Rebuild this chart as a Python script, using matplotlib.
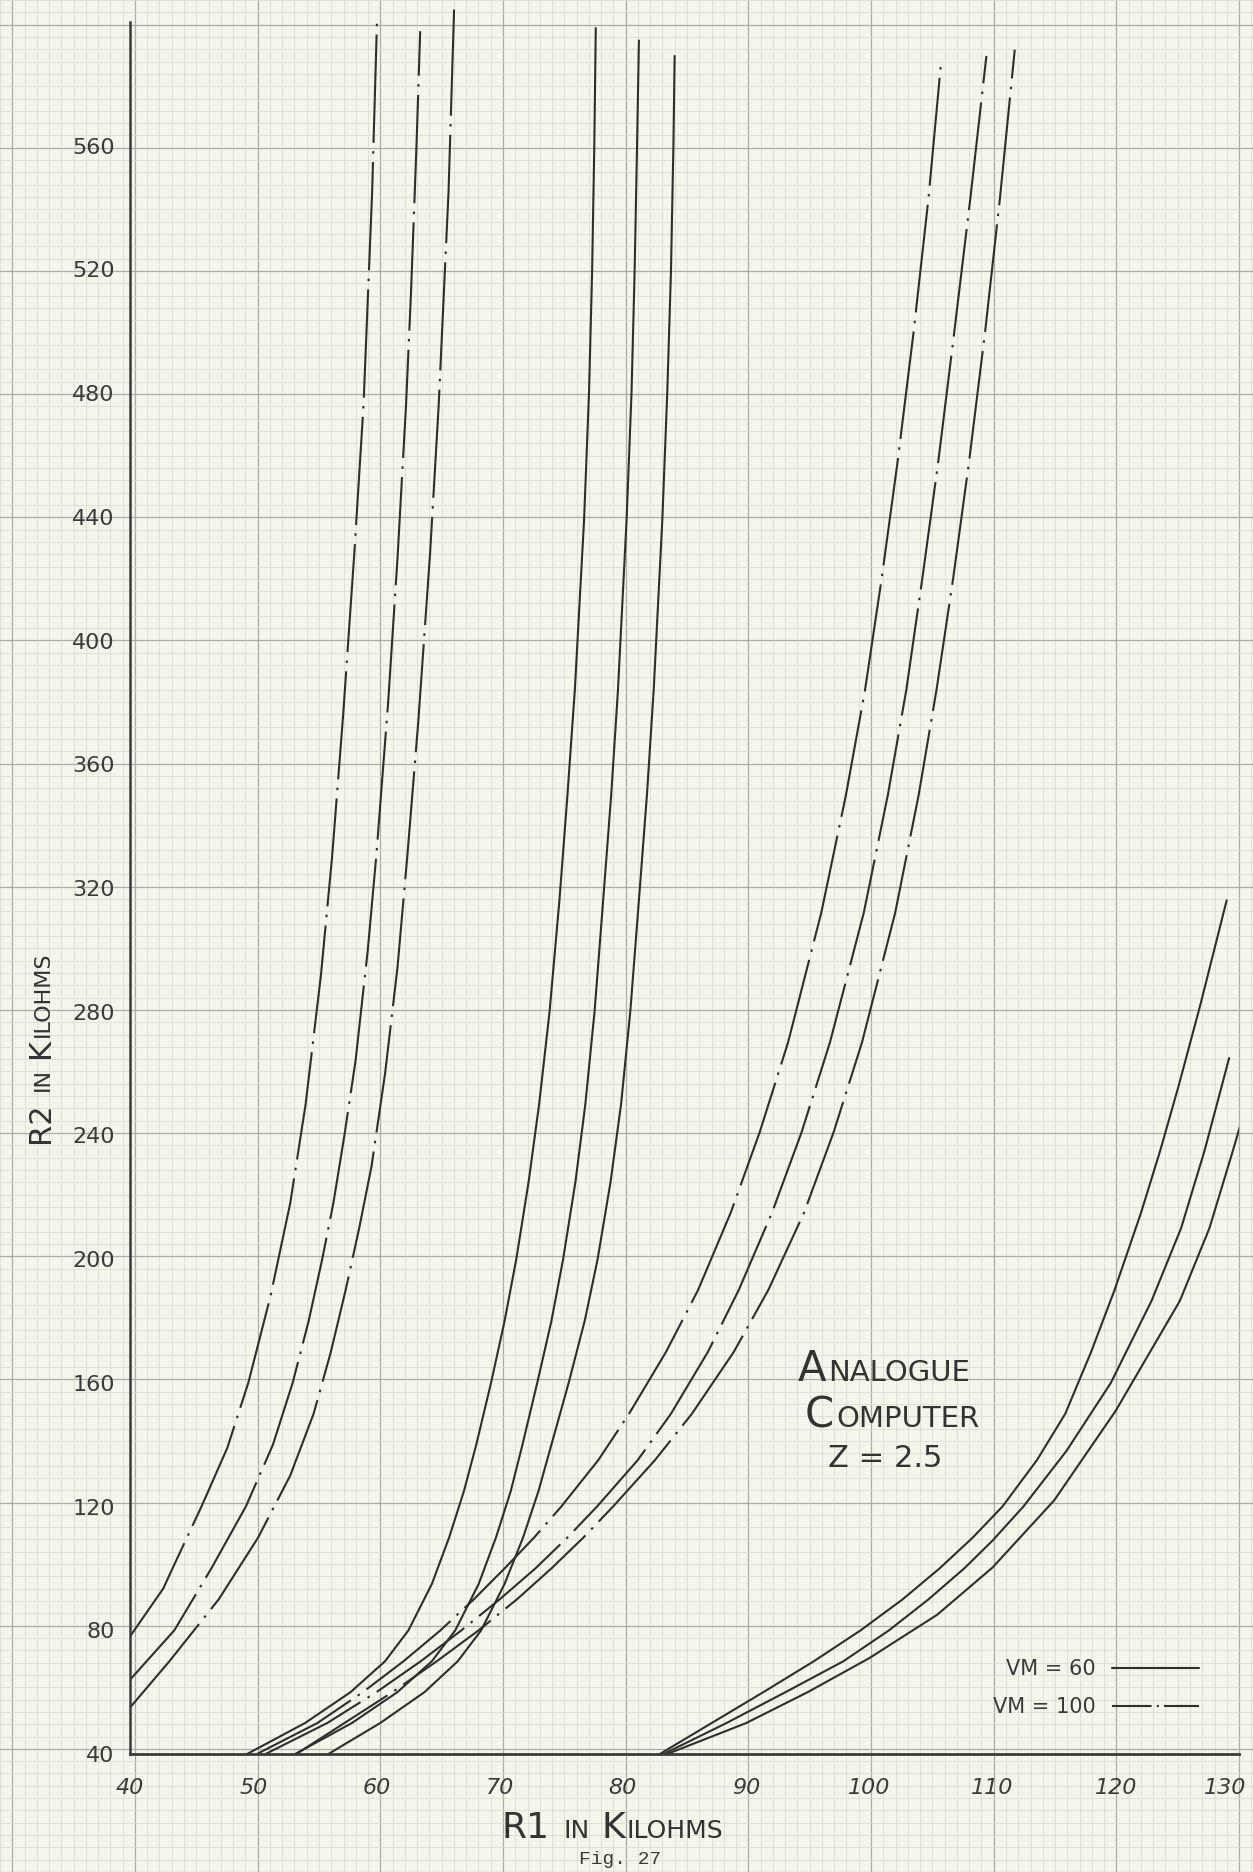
"""Fig. 27 - Analogue computer, Z = 2.5 : R2 against R1 on graph paper"""

import numpy as np
import matplotlib
matplotlib.use("Agg")
import matplotlib.pyplot as plt
import matplotlib.transforms as mtrans
from matplotlib.lines import Line2D

W, H, DPI = 1253, 1872, 100
PAPER = "#f6f5eb"
INK = "#2e2e2e"

# --- curves (R1, R2 in kilohms) ---
# Vm = 100 (dash-dot), left family
a1_y = [78, 93.5, 100, 120, 139, 160, 188, 218, 250, 292, 330, 376, 428, 476, 545, 601]
a1_x = [40, 42.7, 43.45, 45.8, 47.9, 49.6, 51.4, 53.0, 54.25, 55.5, 56.4, 57.3, 58.2, 58.95, 59.65, 60.05]
a2_y = [64, 80, 100, 120, 140, 160, 180, 200, 218, 240, 264, 300, 331, 380, 426, 476, 512, 560, 597]
a2_x = [40, 43.6, 46.6, 49.4, 51.6, 53.2, 54.5, 55.6, 56.5, 57.4, 58.3, 59.3, 60.0, 60.95, 61.7, 62.4,
        62.8, 63.25, 63.55]
a3_y = [55, 70, 90, 110, 130, 150, 170, 190, 210, 230, 260, 294, 330, 374, 428, 476, 545, 604]
a3_x = [40, 43.2, 47.2, 50.4, 53.0, 54.9, 56.3, 57.5, 58.6, 59.6, 60.7, 61.7, 62.5, 63.4, 64.35,
        65.05, 65.85, 66.3]

# Vm = 60 (solid), middle family
b_y = [40, 50, 60, 70, 80, 95, 110, 125, 140, 160, 180, 200, 225, 250, 280, 316, 350, 384,
       439, 480, 519, 560]
b1_x = [49.5, 54.2, 57.9, 60.7, 62.6, 64.5, 65.9, 67.1, 68.1, 69.3, 70.4, 71.35, 72.35, 73.2,
        74.05, 74.85, 75.5, 76.1, 76.85, 77.25, 77.5, 77.68]
b2_x = [53.4, 58.0, 61.7, 64.5, 66.4, 68.3, 69.7, 70.9, 71.85, 73.05, 74.2, 75.15, 76.15, 76.95,
        77.7, 78.4, 79.05, 79.6, 80.3, 80.7, 80.95, 81.15]
b3_x = [56.1, 60.3, 63.9, 66.6, 68.5, 70.4, 71.9, 73.15, 74.2, 75.6, 76.9, 77.95, 79.0, 79.85,
        80.6, 81.3, 81.95, 82.5, 83.2, 83.6, 83.9, 84.1]
b_top_y = [598, 594, 589]
b_top_x = [77.8, 81.3, 84.2]

# Vm = 100 (dash-dot), right family
c_y = [40, 50, 60, 70, 80, 90, 100, 110, 120, 135, 150, 170, 190, 215, 241, 270, 312, 350,
       384, 420, 458, 500, 543]
c1_x = [50.3, 55.2, 58.9, 62.2, 65.2, 67.9, 70.4, 72.8, 75.0, 78.0, 80.5, 83.5, 86.1, 88.75,
        91.1, 93.4, 96.1, 98.1, 99.65, 101.0, 102.3, 103.6, 104.8]
c2_x = [51.0, 56.0, 60.0, 63.6, 66.9, 70.0, 72.9, 75.5, 77.9, 81.2, 83.9, 86.9, 89.4, 92.1,
        94.5, 96.8, 99.55, 101.5, 103.0, 104.3, 105.6, 106.9, 108.2]
c3_x = [53.5, 57.4, 61.3, 64.9, 68.3, 71.4, 74.2, 76.8, 79.2, 82.6, 85.6, 89.0, 91.8, 94.7,
        97.1, 99.4, 102.1, 104.0, 105.45, 106.8, 108.1, 109.4, 110.6]
c_top_y = [586, 589, 591]
c_top_x = [105.8, 109.5, 111.8]

# Vm = 60 (solid), bottom right family
d1_y = [40, 50, 60, 70, 80, 90, 100, 110, 120, 135, 150, 170, 190, 215, 235, 256, 282, 316]
d1_x = [83.0, 87.2, 91.4, 95.5, 99.3, 102.7, 105.7, 108.4, 110.8, 113.6, 115.9, 118.0, 119.9,
        122.05, 123.6, 125.1, 126.85, 129.0]
d2_y = [40, 50, 60, 70, 80, 90, 100, 109, 120, 138, 160, 186.5, 210, 235, 265]
d2_x = [83.3, 88.4, 93.2, 97.9, 101.6, 104.8, 107.7, 110.0, 112.5, 116.0, 119.6, 122.9, 125.3,
        127.2, 129.2]
d3_y = [40, 50, 60, 71, 85, 100.3, 122, 151, 186.5, 210, 235, 250]
d3_x = [83.6, 90.0, 95.0, 100.0, 105.5, 110.0, 115.0, 120.0, 125.2, 127.6, 129.5, 130.6]

x_ticks = list(range(40, 131, 10))
y_ticks = list(range(40, 561, 40))
legend_labels = ["VM = 60", "VM = 100"]

# --- page layout: plot area measured in pixels on the sheet ---
left_px, right_px, base_px = 130, 1239, 1754
px_per_y = 3.093
y_top = 40 + base_px / px_per_y

fig = plt.figure(figsize=(W / DPI, H / DPI), dpi=DPI, facecolor=PAPER)

# graph paper over the whole sheet, same scale as the plot
dx = 90 / (right_px - left_px)
bg = fig.add_axes([0, 0, 1, 1], zorder=0)
bg.set_xlim(40 - left_px * dx, 130 + (W - right_px) * dx)
bg.set_ylim(40 - (H - base_px) / px_per_y, y_top)
bg.set_facecolor(PAPER)
bg.set_xticks(np.arange(30, 140, 10))
bg.set_xticks(np.arange(29, 132, 1), minor=True)
bg.set_yticks(np.arange(0, 640, 40))
bg.set_yticks(np.arange(0, 612, 4), minor=True)
bg.grid(which="minor", color="#dddcd1", lw=0.6)
bg.grid(which="major", color="#adada5", lw=0.9)
bg.tick_params(which="both", length=0, labelbottom=False, labelleft=False)
for s in bg.spines.values():
    s.set_visible(False)

ax = fig.add_axes([left_px / W, 1 - base_px / H, (right_px - left_px) / W, base_px / H], zorder=1)
ax.set_facecolor("none")
ax.set_xlim(40, 130)
ax.set_ylim(40, y_top)

solid = dict(color=INK, lw=1.5, solid_capstyle="round", solid_joinstyle="round")
dashdot = dict(color=INK, lw=1.5, ls=(0, (52, 4, 1.2, 4)))

for xs, ys in [(a1_x, a1_y), (a2_x, a2_y), (a3_x, a3_y)]:
    ax.plot(xs, ys, **dashdot)
for xs, xt, yt in zip([c1_x, c2_x, c3_x], c_top_x, c_top_y):
    ax.plot(xs + [xt], c_y + [yt], **dashdot)
for xs, xt, yt in zip([b1_x, b2_x, b3_x], b_top_x, b_top_y):
    ax.plot(xs + [xt], b_y + [yt], **solid)
for xs, ys in [(d1_x, d1_y), (d2_x, d2_y), (d3_x, d3_y)]:
    ax.plot(xs, ys, **solid)

ax.spines["top"].set_visible(False)
ax.spines["right"].set_visible(False)
ax.spines["left"].set_bounds(40, 600)
ax.spines["left"].set_linewidth(1.8)
ax.spines["bottom"].set_linewidth(2.0)
ax.spines["left"].set_color("#3a3a3a")
ax.spines["bottom"].set_color("#3a3a3a")

ax.set_xticks(x_ticks)
ax.set_xticklabels([str(v) for v in x_ticks], fontsize=16, style="italic", color="#3a3a3a")
ax.set_yticks(y_ticks)
ax.set_yticklabels([str(v) for v in y_ticks], fontsize=16, color="#3a3a3a")
ax.tick_params(axis="x", length=0, pad=17)
ax.tick_params(axis="y", length=0, pad=11)
# the last label sits on the sheet edge, nudge it inside
last = ax.get_xticklabels()[-1]
last.set_transform(last.get_transform() + mtrans.ScaledTranslation(-10 / 72, 0, fig.dpi_scale_trans))

# legend, text in front of the line sample
handles = [Line2D([], [], **solid),
           Line2D([], [], color=INK, lw=1.5, ls=(0, (19, 2.5, 1, 2.5)))]
ax.legend(handles, legend_labels, loc="lower left", bbox_to_anchor=(110, 52.0),
          bbox_transform=ax.transData, frameon=False, markerfirst=False,
          handlelength=4.2, handletextpad=0.8, fontsize=15, labelspacing=0.85,
          borderpad=0, borderaxespad=0, labelcolor="#3a3a3a")


def lettered(cx, cy, parts, rotation=0):
    """Hand-lettering look: big initials, smaller caps. cx, cy in sheet pixels
    (cy = baseline, from top); parts = (text, size, gap after in px)."""
    r = fig.canvas.get_renderer()
    items = []
    for s, size, gap in parts:
        t = fig.text(0, 0, s, fontsize=size, color="#333333", ha="left", va="baseline",
                     rotation=rotation, rotation_mode="anchor")
        bb = t.get_window_extent(r)
        items.append((t, bb.width if rotation == 0 else bb.height, gap))
    total = sum(l + g for _, l, g in items) - items[-1][2]
    pos = -total / 2
    for t, length, gap in items:
        if rotation == 0:
            t.set_position(((cx + pos) / W, 1 - cy / H))
        else:
            t.set_position((cx / W, 1 - (cy - pos) / H))
        pos += length + gap


lettered(612, 1838, [("R1", 26, 14), ("IN", 18, 12), ("K", 26, 1), ("ILOHMS", 18, 0)])
lettered(49, 1047, [("R2", 22, 11), ("IN", 16, 10), ("K", 22, 1), ("ILOHMS", 16, 0)], rotation=90)

lettered(884, 1381, [("A", 30, 2), ("NALOGUE", 21, 0)])
lettered(892, 1427, [("C", 30, 2), ("OMPUTER", 21, 0)])
lettered(885, 1467, [("Z = 2.5", 22, 0)])

fig.text(620 / W, 1 - 1864 / H, "Fig. 27", family="Liberation Mono", fontsize=14,
         color="#3a3a3a", ha="center", va="baseline")

fig.savefig("out.png", dpi=DPI, facecolor=PAPER)
plt.close(fig)
